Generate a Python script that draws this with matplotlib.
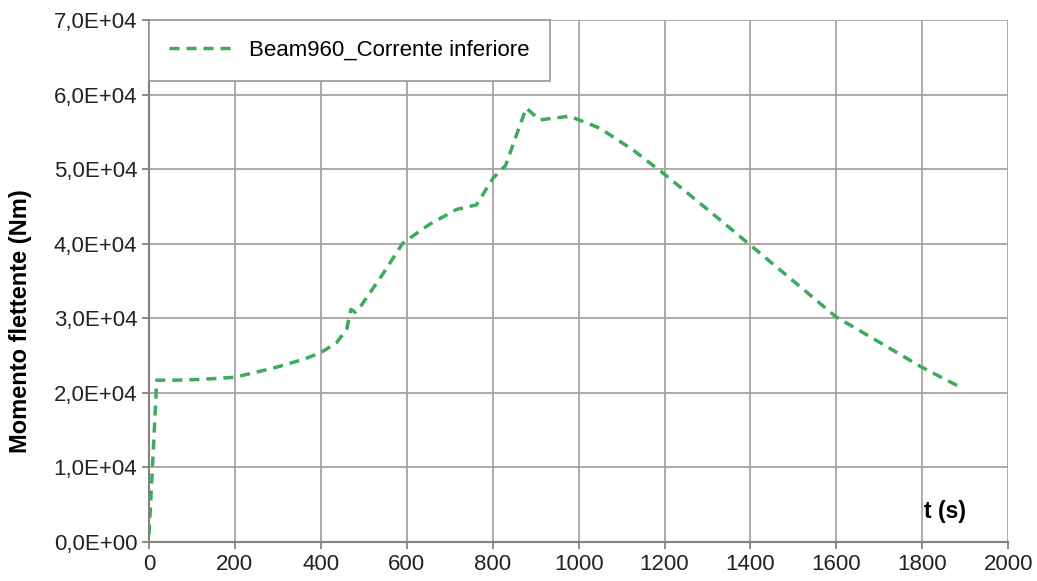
import matplotlib.pyplot as plt
from matplotlib.ticker import FuncFormatter

# Data
t_s = [0, 8, 18, 60, 120, 200, 288, 360, 400, 436, 460, 470, 480, 495,
       545, 591, 653, 716, 762, 801, 830, 878, 909, 979, 1049, 1126,
       1196, 1300, 1398, 1500, 1599, 1700, 1797, 1894]
moment = [0.1e4, 1.0e4, 2.17e4, 2.17e4, 2.18e4, 2.21e4, 2.33e4, 2.45e4, 2.54e4, 2.67e4,
          2.85e4, 3.12e4, 3.08e4, 3.18e4,
          3.60e4, 4.01e4, 4.26e4, 4.46e4, 4.52e4, 4.88e4, 5.05e4, 5.82e4, 5.66e4, 5.71e4,
          5.55e4, 5.26e4, 4.95e4, 4.46e4, 3.99e4, 3.50e4, 3.02e4, 2.68e4, 2.35e4, 2.06e4]
series_label = "Beam960_Corrente inferiore"

plt.rcParams['font.family'] = ['Liberation Sans', 'DejaVu Sans']

fig = plt.figure(figsize=(10.37, 5.81), dpi=100)
ax = fig.add_axes([0.1437, 0.0671, 0.8285, 0.8985])

ax.plot(t_s, moment, color='#3cab5a', linewidth=2.5, linestyle=(0, (2.9, 2.0)),
        label=series_label)

ax.set_xlim(0, 2000)
ax.set_ylim(0, 7e4)
ax.set_xticks(range(0, 2001, 200))
ax.set_yticks([i * 1e4 for i in range(8)])
ax.yaxis.set_major_formatter(FuncFormatter(lambda v, p: ("%.1E" % v).replace('.', ',')))

ax.grid(True, color='#aba3a3', linewidth=1.3)
ax.set_axisbelow(True)
for side in ['top', 'right']:
    ax.spines[side].set_visible(False)
for side in ['left', 'bottom']:
    ax.spines[side].set_color('#858080')
    ax.spines[side].set_linewidth(1.5)
ax.tick_params(labelsize=16, colors='#858080', labelcolor='#222222', length=5, width=1.3)

ax.set_ylabel('Momento flettente (Nm)', fontsize=17, fontweight='bold')
ax.yaxis.set_label_coords(-0.136, 0.423)
ax.text(1805, 0.25e4, 't (s)', fontsize=16.5, fontweight='bold', ha='left', va='bottom')

leg = ax.legend(loc='upper left', borderaxespad=0, fontsize=16, fancybox=False,
                framealpha=1, edgecolor='#9a9393', handlelength=2.9,
                borderpad=0.9, handletextpad=0.7)
leg.get_frame().set_linewidth(1.2)

fig.savefig('out.png', dpi=100)
